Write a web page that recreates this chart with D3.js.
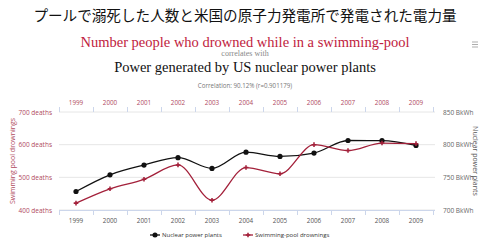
<!DOCTYPE html>
<html>
<head>
<meta charset="utf-8">
<script src="https://cdn.jsdelivr.net/npm/d3@7"></script>
<style>
  body { margin: 0; background: #fff; }
  svg { display: block; }
</style>
</head>
<body>
<div id="chart"></div>
<script>
// data
const years = ["1999","2000","2001","2002","2003","2004","2005","2006","2007","2008","2009"];
const drownings = [421, 465, 494, 538, 430, 530, 511, 600, 582, 605, 603];
const nuclear = [728.3, 753.9, 768.8, 780.1, 763.7, 788.5, 782.0, 787.2, 806.4, 806.2, 798.9];
const leftTicks = [400, 500, 600, 700];
const rightTicks = [700, 750, 800, 850];

const width = 480, height = 240;
const plot = { left: 59, right: 433, top: 112, bottom: 210 };

const red = "#a3203a";
const axisRed = "#b04a5e";

const svg = d3.select("#chart").append("svg")
  .attr("width", width)
  .attr("height", height);

// titles
svg.append("text")
  .attr("x", 245).attr("y", 21)
  .attr("text-anchor", "middle")
  .attr("font-family", "Noto Sans CJK JP")
  .attr("font-size", "14.6px")
  .attr("fill", "#111")
  .text("プールで溺死した人数と米国の原子力発電所で発電された電力量");

svg.append("text")
  .attr("x", 245).attr("y", 47)
  .attr("text-anchor", "middle")
  .attr("font-family", "Liberation Serif")
  .attr("font-size", "14.5px")
  .attr("fill", "#c0213d")
  .text("Number people who drowned while in a swimming-pool");

svg.append("text")
  .attr("x", 245).attr("y", 56)
  .attr("text-anchor", "middle")
  .attr("font-family", "Liberation Serif")
  .attr("font-size", "8px")
  .attr("fill", "#888")
  .text("correlates with");

svg.append("text")
  .attr("x", 245).attr("y", 72)
  .attr("text-anchor", "middle")
  .attr("font-family", "Liberation Serif")
  .attr("font-size", "14.5px")
  .attr("fill", "#111")
  .text("Power generated by US nuclear power plants");

svg.append("text")
  .attr("x", 245).attr("y", 88)
  .attr("text-anchor", "middle")
  .attr("font-family", "Open Sans")
  .attr("font-size", "6.2px")
  .attr("fill", "#777")
  .text("Correlation: 90.12% (r=0.901179)");

// menu icon
svg.append("g").selectAll("line")
  .data([0, 1, 2])
  .enter().append("line")
  .attr("x1", 472).attr("x2", 478)
  .attr("y1", d => 42 + d * 2.5).attr("y2", d => 42 + d * 2.5)
  .attr("stroke", "#777").attr("stroke-width", 0.6);

// scales
const xScale = d3.scaleBand().domain(years).range([plot.left, plot.right]);
const cx = d => xScale(d) + xScale.bandwidth() / 2;
const yLeft = d3.scaleLinear().domain([400, 700]).range([plot.bottom, plot.top]);
const yRight = d3.scaleLinear().domain([700, 850]).range([plot.bottom, plot.top]);

// grid
svg.append("g").selectAll("line")
  .data(leftTicks)
  .enter().append("line")
  .attr("x1", plot.left).attr("x2", plot.right + 2)
  .attr("y1", d => yLeft(d)).attr("y2", d => yLeft(d))
  .attr("stroke", "#e6e6e6").attr("stroke-width", 1);

// bottom axis line + ticks at band edges
const edges = years.map(d => xScale(d)).concat([plot.right]);
svg.append("line")
  .attr("x1", plot.left).attr("x2", plot.right + 2)
  .attr("y1", plot.bottom + 0.5).attr("y2", plot.bottom + 0.5)
  .attr("stroke", "#ccd6eb");
svg.append("g").selectAll("line")
  .data(edges)
  .enter().append("line")
  .attr("x1", d => d + 0.5).attr("x2", d => d + 0.5)
  .attr("y1", plot.bottom).attr("y2", plot.bottom + 5)
  .attr("stroke", "#ccd6eb");
svg.append("g").selectAll("line")
  .data(edges)
  .enter().append("line")
  .attr("x1", d => d + 0.5).attr("x2", d => d + 0.5)
  .attr("y1", plot.top - 5).attr("y2", plot.top)
  .attr("stroke", "#ccd6eb");

const xBottom = svg.append("g")
  .attr("transform", `translate(0,${plot.bottom + 5})`)
  .call(d3.axisBottom(xScale).tickSize(0).tickPadding(4));
xBottom.select(".domain").remove();
xBottom.selectAll("text")
  .attr("font-family", "Open Sans").attr("font-size", "6.3px").attr("fill", "#555");

const xTop = svg.append("g")
  .attr("transform", `translate(0,${plot.top - 6})`)
  .call(d3.axisTop(xScale).tickSize(0).tickPadding(1));
xTop.select(".domain").remove();
xTop.selectAll("text")
  .attr("font-family", "Open Sans").attr("font-size", "6.3px").attr("fill", axisRed);

// y axes
const yl = svg.append("g")
  .attr("transform", `translate(${plot.left - 7},0)`)
  .call(d3.axisLeft(yLeft).tickValues(leftTicks).tickSize(0).tickPadding(0)
    .tickFormat(d => d + " deaths"));
yl.select(".domain").remove();
yl.selectAll("text")
  .attr("font-family", "Open Sans").attr("font-size", "6.5px").attr("fill", axisRed);

const yr = svg.append("g")
  .attr("transform", `translate(${plot.right + 10},0)`)
  .call(d3.axisRight(yRight).tickValues(rightTicks).tickSize(0).tickPadding(0)
    .tickFormat(d => d + " BkWh"));
yr.select(".domain").remove();
yr.selectAll("text")
  .attr("font-family", "Open Sans").attr("font-size", "6.5px").attr("fill", "#666");

svg.append("text")
  .attr("transform", `translate(15,${(plot.top + plot.bottom) / 2}) rotate(-90)`)
  .attr("text-anchor", "middle")
  .attr("font-family", "Open Sans").attr("font-size", "7px").attr("fill", axisRed)
  .text("Swimming pool drownings");

svg.append("text")
  .attr("transform", `translate(473,${(plot.top + plot.bottom) / 2}) rotate(90)`)
  .attr("text-anchor", "middle")
  .attr("font-family", "Open Sans").attr("font-size", "7px").attr("fill", "#555")
  .text("Nuclear power plants");

// lines
const lineLeft = d3.line().x((d, i) => cx(years[i])).y(d => yLeft(d)).curve(d3.curveMonotoneX);
const lineRight = d3.line().x((d, i) => cx(years[i])).y(d => yRight(d)).curve(d3.curveMonotoneX);

svg.append("path")
  .datum(nuclear)
  .attr("d", lineRight)
  .attr("fill", "none").attr("stroke", "#111").attr("stroke-width", 1.3);

svg.append("path")
  .datum(drownings)
  .attr("d", lineLeft)
  .attr("fill", "none").attr("stroke", red).attr("stroke-width", 1.3);

svg.append("g").selectAll("circle")
  .data(nuclear)
  .enter().append("circle")
  .attr("cx", (d, i) => cx(years[i]))
  .attr("cy", d => yRight(d))
  .attr("r", 2.6)
  .attr("fill", "#111");

const cross = d3.symbol().type(d3.symbolCross).size(12);
svg.append("g").selectAll("path")
  .data(drownings)
  .enter().append("path")
  .attr("d", cross)
  .attr("transform", (d, i) => `translate(${cx(years[i])},${yLeft(d)})`)
  .attr("fill", red);

// legend
const legend = [
  { name: "Nuclear power plants", x: 150, color: "#111", mark: "circle" },
  { name: "Swimming-pool drownings", x: 243, color: red, mark: "cross" }
];
const lg = svg.append("g").selectAll("g")
  .data(legend)
  .enter().append("g")
  .attr("transform", d => `translate(${d.x},235)`);
lg.append("line")
  .attr("x1", 0).attr("x2", 10).attr("y1", 0).attr("y2", 0)
  .attr("stroke", d => d.color).attr("stroke-width", 1.3);
lg.append("path")
  .attr("d", d => d.mark === "circle"
    ? d3.symbol().type(d3.symbolCircle).size(20)()
    : cross())
  .attr("transform", "translate(5,0)")
  .attr("fill", d => d.color);
lg.append("text")
  .attr("x", 12).attr("y", 2.2)
  .attr("font-family", "Open Sans").attr("font-size", "6px").attr("fill", "#333")
  .text(d => d.name);
</script>
</body>
</html>
